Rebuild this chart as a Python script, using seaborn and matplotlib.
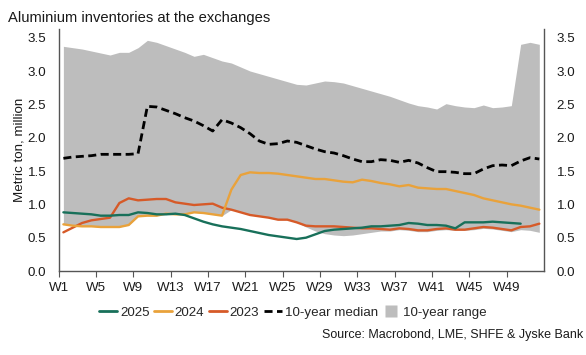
import numpy as np
import pandas as pd
import matplotlib
matplotlib.use("Agg")
import matplotlib.pyplot as plt
import seaborn as sns
from matplotlib.lines import Line2D

# ---- data (million metric tons), weekly ----
weeks = list(range(1, 53))

range_high = [3.37, 3.35, 3.33, 3.30, 3.27, 3.24, 3.28, 3.28, 3.35, 3.46,
              3.43, 3.38, 3.33, 3.28, 3.22, 3.25, 3.20, 3.15, 3.12, 3.06,
              3.00, 2.96, 2.92, 2.88, 2.84, 2.80, 2.79, 2.82, 2.85, 2.84,
              2.82, 2.78, 2.74, 2.70, 2.66, 2.62, 2.57, 2.52, 2.48, 2.46,
              2.43, 2.51, 2.48, 2.46, 2.45, 2.49, 2.45, 2.46, 2.48, 3.40,
              3.43, 3.40]

range_low = [0.70, 0.68, 0.67, 0.67, 0.66, 0.66, 0.66, 0.69, 0.82, 0.83,
             0.83, 0.86, 0.85, 0.85, 0.88, 0.87, 0.85, 0.83, 0.92, 0.88,
             0.84, 0.82, 0.80, 0.77, 0.77, 0.73, 0.66, 0.60, 0.56, 0.54,
             0.53, 0.54, 0.56, 0.58, 0.60, 0.60, 0.62, 0.61, 0.59, 0.59,
             0.61, 0.62, 0.61, 0.61, 0.62, 0.64, 0.63, 0.61, 0.59, 0.62,
             0.61, 0.58]

median_10y = [1.69, 1.71, 1.72, 1.73, 1.75, 1.75, 1.75, 1.75, 1.76, 2.47,
              2.46, 2.41, 2.36, 2.30, 2.25, 2.18, 2.10, 2.27, 2.22, 2.15,
              2.06, 1.95, 1.90, 1.91, 1.95, 1.93, 1.88, 1.83, 1.79, 1.77,
              1.73, 1.68, 1.64, 1.64, 1.67, 1.66, 1.63, 1.66, 1.62, 1.55,
              1.49, 1.49, 1.48, 1.46, 1.46, 1.53, 1.58, 1.59, 1.58, 1.65,
              1.70, 1.68]

y2025 = [0.88, 0.87, 0.86, 0.85, 0.83, 0.83, 0.84, 0.84, 0.88, 0.87,
         0.85, 0.85, 0.86, 0.84, 0.79, 0.74, 0.70, 0.67, 0.65, 0.63,
         0.60, 0.57, 0.54, 0.52, 0.50, 0.48, 0.50, 0.55, 0.60, 0.62,
         0.63, 0.64, 0.65, 0.67, 0.67, 0.68, 0.69, 0.72, 0.71, 0.69,
         0.69, 0.68, 0.64, 0.73, 0.73, 0.73, 0.74, 0.73, 0.72, 0.71]

y2024 = [0.70, 0.68, 0.67, 0.67, 0.66, 0.66, 0.66, 0.69, 0.82, 0.83,
         0.83, 0.86, 0.85, 0.85, 0.88, 0.87, 0.85, 0.83, 1.22, 1.44,
         1.48, 1.47, 1.47, 1.46, 1.44, 1.42, 1.40, 1.38, 1.38, 1.36,
         1.34, 1.33, 1.37, 1.35, 1.32, 1.30, 1.27, 1.29, 1.25, 1.24,
         1.23, 1.23, 1.20, 1.17, 1.14, 1.09, 1.06, 1.03, 1.00, 0.98,
         0.95, 0.92]

y2023 = [0.58, 0.65, 0.72, 0.76, 0.78, 0.80, 1.02, 1.09, 1.06, 1.07,
         1.08, 1.08, 1.03, 1.01, 0.99, 1.00, 1.01, 0.95, 0.92, 0.88,
         0.84, 0.82, 0.80, 0.77, 0.77, 0.73, 0.68, 0.67, 0.67, 0.67,
         0.66, 0.65, 0.64, 0.64, 0.63, 0.62, 0.64, 0.63, 0.61, 0.61,
         0.63, 0.64, 0.62, 0.62, 0.64, 0.66, 0.65, 0.63, 0.61, 0.66,
         0.67, 0.71]

tick_weeks = list(range(1, 50, 4))
tick_labels = [f"W{w}" for w in tick_weeks]
y_ticks = [0.0, 0.5, 1.0, 1.5, 2.0, 2.5, 3.0, 3.5]

series_names = ["2025", "2024", "2023"]
series_vals = [y2025, y2024, y2023]
colors = {"2025": "#18705a", "2024": "#e9a23b", "2023": "#d65a28"}
gray = "#bdbdbd"

# ---- build long table ----
pos = np.array(weeks) + 0.5  # values plotted at the middle of each week
rows = []
for name, vals in zip(series_names, series_vals):
    for p, v in zip(pos[:len(vals)], vals):
        rows.append({"week": p, "value": v, "series": name})
df = pd.DataFrame(rows)
med = pd.DataFrame({"week": pos, "value": median_10y})

sns.set_theme(style="white")
plt.rcParams["font.family"] = ["Liberation Sans", "DejaVu Sans"]

FS = 9.6
txt = "#1a1a1a"
DASH = [2.9, 1.6]

fig = plt.figure(figsize=(5.86, 3.55), dpi=100)
ax = fig.add_axes([0.1002, 0.2366, 0.8281, 0.6817])

ax.fill_between(pos, range_low, range_high, color=gray, linewidth=0, zorder=1)
sns.lineplot(data=med, x="week", y="value", color="black", linewidth=2.0,
             ax=ax, zorder=3, legend=False)
ax.lines[-1].set_dashes(DASH)
sns.lineplot(data=df, x="week", y="value", hue="series", palette=colors,
             hue_order=["2023", "2024", "2025"], linewidth=1.7, ax=ax,
             legend=False, zorder=4)

ax.set_xlim(1, 53)
ax.set_ylim(0, 3.63)
ax.set_xticks(tick_weeks)
ax.set_xticklabels(tick_labels, fontsize=FS, color=txt)
ax.set_yticks(y_ticks)
ax.set_yticklabels([f"{t:.1f}" for t in y_ticks], fontsize=FS, color=txt)
ax.tick_params(axis="x", which="both", bottom=True, length=4, width=0.8,
               color="#555555", pad=4)
ax.tick_params(axis="y", left=False, right=False, labelleft=True,
               labelright=True, length=0, pad=9)
ax.set_xlabel("")
ax.set_ylabel("Metric ton, million", fontsize=FS, color=txt, labelpad=1.5)

for side in ["left", "right", "bottom"]:
    ax.spines[side].set_visible(True)
    ax.spines[side].set_color("#555555")
    ax.spines[side].set_linewidth(1.0)
ax.spines["top"].set_visible(False)

fig.text(0.014, 0.948, "Aluminium inventories at the exchanges",
         fontsize=10.6, color=txt, ha="left", va="center")

handles = [
    Line2D([], [], color=colors["2025"], linewidth=2),
    Line2D([], [], color=colors["2024"], linewidth=2),
    Line2D([], [], color=colors["2023"], linewidth=2),
    Line2D([], [], color="black", linewidth=2, dashes=DASH),
    Line2D([], [], linestyle="none", marker="s", markersize=8,
           markerfacecolor=gray, markeredgecolor="none"),
]
labels = ["2025", "2024", "2023", "10-year median", "10-year range"]
fig.legend(handles, labels, loc="center", bbox_to_anchor=(0.50, 0.12), ncol=5,
           frameon=False, fontsize=FS, handlelength=1.35, handletextpad=0.2,
           columnspacing=0.35, handleheight=0.9)

fig.text(0.996, 0.055, "Source: Macrobond, LME, SHFE & Jyske Bank",
         fontsize=9.0, color=txt, ha="right", va="center")

fig.savefig("out.png", dpi=100)
